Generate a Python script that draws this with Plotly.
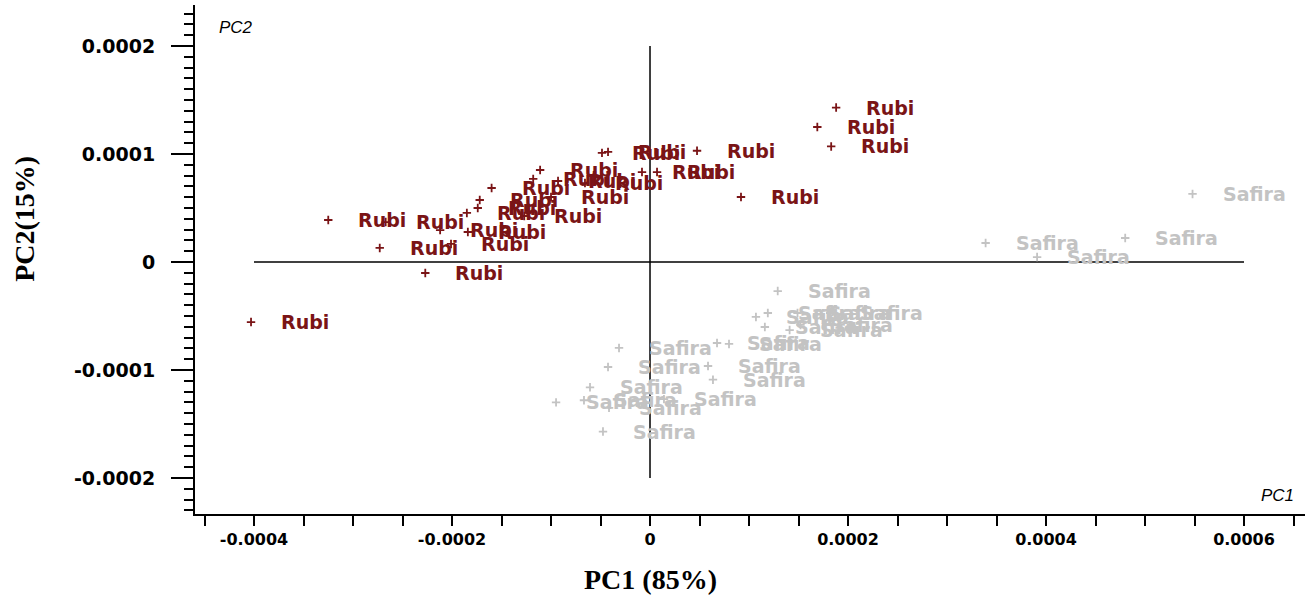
import plotly.graph_objects as go

# ---- data (PC scores) ----
rubi_pc1 = [-0.000403, -0.000325, -0.000267, -0.000273, -0.000227, -0.000201, -0.000212,
            -0.000185, -0.000174, -0.000172, -0.000160, -0.000111, -0.000118, -0.000100,
            -0.000127, -0.000184, -0.0000485, -0.0000424, 0.0000475, -0.0000081, 0.0000071,
            0.0000919, 0.000188, 0.000169, 0.000183, -0.0000929, -0.0000657]
rubi_pc2 = [-0.0000556, 0.0000389, 0.0000370, 0.0000130, -0.0000102, 0.0000167, 0.0000296,
            0.0000454, 0.0000500, 0.0000574, 0.0000685, 0.0000852, 0.0000769, 0.0000602,
            0.0000426, 0.0000278, 0.000101, 0.000102, 0.000103, 0.0000833, 0.0000833,
            0.0000602, 0.000143, 0.000125, 0.000107, 0.0000750, 0.0000731]

safira_pc1 = [-0.0000313, -0.0000424, -0.0000606, -0.0000949, -0.0000667, -0.0000475, -0.0000414,
              0.0000141, 0.0000636, 0.0000586, 0.0000677, 0.0000798, 0.000129, 0.000107,
              0.000119, 0.000116, 0.000149, 0.000182, 0.000141, 0.000152,
              0.000548, 0.000339, 0.000480, 0.000391]
safira_pc2 = [-0.0000796, -0.0000972, -0.000116, -0.000130, -0.000128, -0.000157, -0.000135,
              -0.000127, -0.000109, -0.0000963, -0.0000750, -0.0000759, -0.0000269, -0.0000509,
              -0.0000472, -0.0000602, -0.0000472, -0.0000472, -0.0000630, -0.0000583,
              0.0000630, 0.0000176, 0.0000222, 0.0000046]

x_tickvals = [-0.0004, -0.0002, 0, 0.0002, 0.0004, 0.0006]
x_ticktext = ["-0.0004", "-0.0002", "0", "0.0002", "0.0004", "0.0006"]
y_tickvals = [-0.0002, -0.0001, 0, 0.0001, 0.0002]
y_ticktext = ["-0.0002", "-0.0001", "0", "0.0001", "0.0002"]

RUBI_COLOR = "#7a1416"
SAFIRA_COLOR = "#c3c3c3"
LABEL_FONT = "DejaVu Sans"

fig = go.Figure()

fig.add_trace(go.Scatter(
    x=safira_pc1, y=safira_pc2, mode="markers", name="Safira",
    marker=dict(symbol="cross-thin", size=6, line=dict(color=SAFIRA_COLOR, width=1.8)),
))
fig.add_trace(go.Scatter(
    x=rubi_pc1, y=rubi_pc2, mode="markers", name="Rubi",
    marker=dict(symbol="cross-thin", size=6, line=dict(color=RUBI_COLOR, width=1.8)),
))

annotations = []
for xv, yv in zip(safira_pc1, safira_pc2):
    annotations.append(dict(x=xv, y=yv, xref="x", yref="y", text="Safira", showarrow=False,
                            xanchor="left", yanchor="middle", xshift=28,
                            font=dict(family=LABEL_FONT, size=19, color=SAFIRA_COLOR, weight="bold")))
for xv, yv in zip(rubi_pc1, rubi_pc2):
    annotations.append(dict(x=xv, y=yv, xref="x", yref="y", text="Rubi", showarrow=False,
                            xanchor="left", yanchor="middle", xshift=28,
                            font=dict(family=LABEL_FONT, size=19, color=RUBI_COLOR, weight="bold")))

annotations.append(dict(x=0.02, y=0.955, xref="paper", yref="paper", text="PC2", showarrow=False,
                        xanchor="left", yanchor="middle",
                        font=dict(family="Liberation Sans", size=17, color="black", style="italic")))
annotations.append(dict(x=0.992, y=0.037, xref="paper", yref="paper", text="PC1", showarrow=False,
                        xanchor="right", yanchor="middle",
                        font=dict(family="Liberation Sans", size=17, color="black", style="italic")))
# axis titles placed as in the reference
annotations.append(dict(x=0, y=-0.02, xref="x", yref="paper", text="<b>PC1 (85%)</b>", showarrow=False,
                        xanchor="center", yanchor="middle", yshift=-55,
                        font=dict(family="Liberation Serif", size=28, color="black")))
annotations.append(dict(x=-0.0004596, y=0.00004, xref="x", yref="y", text="<b>PC2(15%)</b>",
                        showarrow=False, textangle=-90, xanchor="center", yanchor="middle",
                        xshift=-170,
                        font=dict(family="Liberation Serif", size=28, color="black")))

shapes = [
    dict(type="line", xref="x", yref="y", x0=-0.0004, x1=0.0006, y0=0, y1=0,
         line=dict(color="black", width=1.5), layer="below"),
    dict(type="line", xref="x", yref="y", x0=0, x1=0, y0=-0.0002, y1=0.0002,
         line=dict(color="black", width=1.5), layer="below"),
]

fig.update_layout(
    width=1307, height=602,
    margin=dict(l=195, r=2, t=5, b=88),
    paper_bgcolor="white", plot_bgcolor="white",
    showlegend=False,
    annotations=annotations,
    shapes=shapes,
    xaxis=dict(
        range=[-0.0004596, 0.0006616], showgrid=False, zeroline=False,
        showline=True, linecolor="black", linewidth=2,
        tickmode="array", tickvals=x_tickvals, ticktext=x_ticktext,
        ticks="outside", ticklen=10, tickwidth=1.5, tickcolor="black",
        minor=dict(dtick=0.00005, tick0=0, ticks="outside", ticklen=10, tickwidth=1.5,
                   tickcolor="black", showgrid=False),
        tickfont=dict(family=LABEL_FONT, size=16, color="black", weight="bold"),
    ),
    yaxis=dict(
        range=[-0.00023333, 0.00023796], showgrid=False, zeroline=False,
        showline=True, linecolor="black", linewidth=2,
        tickmode="array", tickvals=y_tickvals, ticktext=y_ticktext,
        ticks="outside", ticklen=22, tickwidth=1.5, tickcolor="black",
        minor=dict(dtick=0.00001, tick0=0, ticks="outside", ticklen=9, tickwidth=1.5,
                   tickcolor="black", showgrid=False),
        tickfont=dict(family=LABEL_FONT, size=19, color="black", weight="bold"),
        ticklabelstandoff=12,
    ),
)

fig.write_html("out.html")
